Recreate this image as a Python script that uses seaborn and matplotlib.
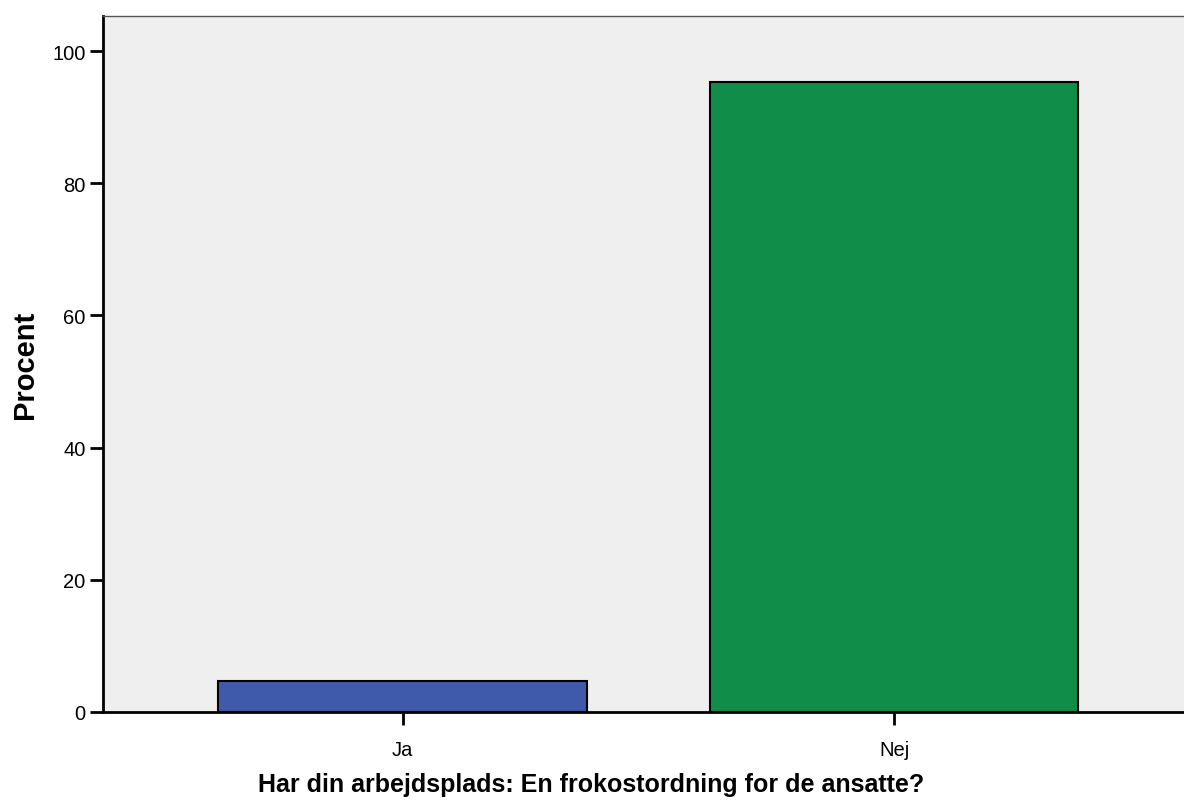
import pandas as pd
import seaborn as sns
import matplotlib.pyplot as plt

# Data
categories = ["Ja", "Nej"]
percent = [4.7, 95.3]
bar_colors = ["#3f5aab", "#108d48"]

df = pd.DataFrame({"svar": categories, "procent": percent})

sns.set_style("white")
plt.rcParams["font.family"] = ["Liberation Sans", "DejaVu Sans"]
plt.rcParams["text.color"] = "black"
plt.rcParams["axes.labelcolor"] = "black"
plt.rcParams["xtick.color"] = "black"
plt.rcParams["ytick.color"] = "black"

fig = plt.figure(figsize=(11.84, 8.03), dpi=100)
ax = fig.add_axes([103 / 1184, 90 / 803, 1 - 103 / 1184, 696 / 803])
ax.set_facecolor("#efefef")

sns.barplot(data=df, x="svar", y="procent", hue="svar", palette=bar_colors,
            saturation=1, width=0.75, edgecolor="black", linewidth=1.5,
            legend=False, ax=ax)

ax.set_xlim(-0.61, 1.59)
ax.set_ylim(0, 105.3)
ax.set_yticks([0, 20, 40, 60, 80, 100])

ax.set_xlabel("Har din arbejdsplads: En frokostordning for de ansatte?",
              fontsize=18, fontweight="bold")
ax.set_ylabel("Procent", fontsize=21, fontweight="bold")
# the x title sits under the middle of the whole figure
ax.xaxis.set_label_coords(0.452, -0.0865)
ax.yaxis.set_label_coords(-0.059, 0.5)

ax.tick_params(axis="both", which="major", labelsize=14.5, width=2,
               direction="out", color="black", labelcolor="black",
               bottom=True, left=True)
ax.tick_params(axis="x", length=9, pad=11)
ax.tick_params(axis="y", length=9.5, pad=3)

for side in ["left", "bottom"]:
    ax.spines[side].set_color("black")
    ax.spines[side].set_linewidth(2)
ax.spines["top"].set_color("#555555")
ax.spines["top"].set_linewidth(1)
ax.spines["right"].set_visible(False)

fig.savefig("out.png", dpi=100)
